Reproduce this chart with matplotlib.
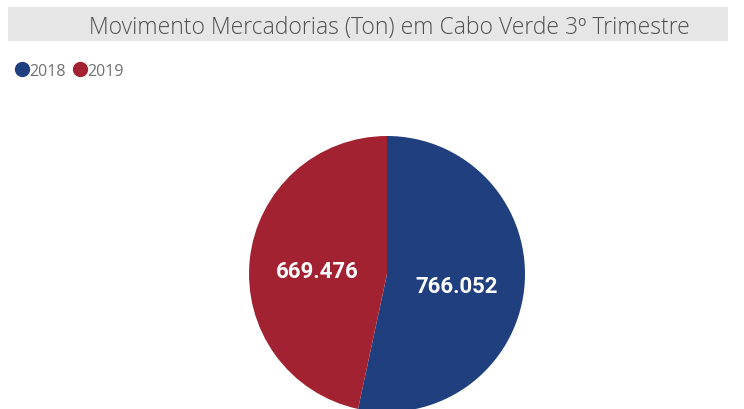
import matplotlib
matplotlib.use("Agg")
import matplotlib.pyplot as plt
from matplotlib.patches import Rectangle
from matplotlib.lines import Line2D
import numpy as np

title = "Movimento Mercadorias (Ton) em Cabo Verde 3º Trimestre"
categories = ["2018", "2019"]
values = [766052, 669476]
colors = ["#1F3F7F", "#A32231"]

W, H = 744, 410
fig = plt.figure(figsize=(W / 100, H / 100), dpi=100)
fig.patch.set_facecolor("white")

# title bar
fig.add_artist(Rectangle((8 / W, (H - 42) / H), 720 / W, 34 / H,
                         transform=fig.transFigure, facecolor="#E6E6E6",
                         edgecolor="none"))
fig.text(389 / W, (H - 28) / H, title, ha="center", va="center",
         fontsize=16.5, color="#505050", family="Open Sans", fontweight=300)

# legend
handles = [Line2D([], [], marker="o", linestyle="none", markersize=10,
                  markerfacecolor=c, markeredgecolor=c) for c in colors]
fig.legend(handles, categories, loc="center left",
           bbox_to_anchor=(17 / W, (H - 72) / H), ncol=2, frameon=False,
           handlelength=0.6, handletextpad=0.15, columnspacing=0.6,
           borderaxespad=0, borderpad=0,
           prop={"family": "Open Sans", "size": 11.5},
           labelcolor="#707070")

# pie
cx, cy, r = 387, H - 275, 138
ax = fig.add_axes([(cx - r) / W, (cy - r) / H, 2 * r / W, 2 * r / H])

def fmt(v):
    return f"{v:,}".replace(",", ".")

wedges, texts = ax.pie(values, colors=colors, startangle=90, counterclock=False,
                       radius=1, wedgeprops={"linewidth": 0})
ax.set_xlim(-1, 1)
ax.set_ylim(-1, 1)
ax.set_aspect("equal")
ax.axis("off")
for w, v in zip(wedges, values):
    ang = np.deg2rad((w.theta1 + w.theta2) / 2)
    ax.text(0.51 * np.cos(ang), 0.51 * np.sin(ang) - 0.03, fmt(v), ha="center",
            va="center", color="white", fontsize=16, fontweight="bold",
            family="Roboto")

fig.savefig("out.png", dpi=100)
